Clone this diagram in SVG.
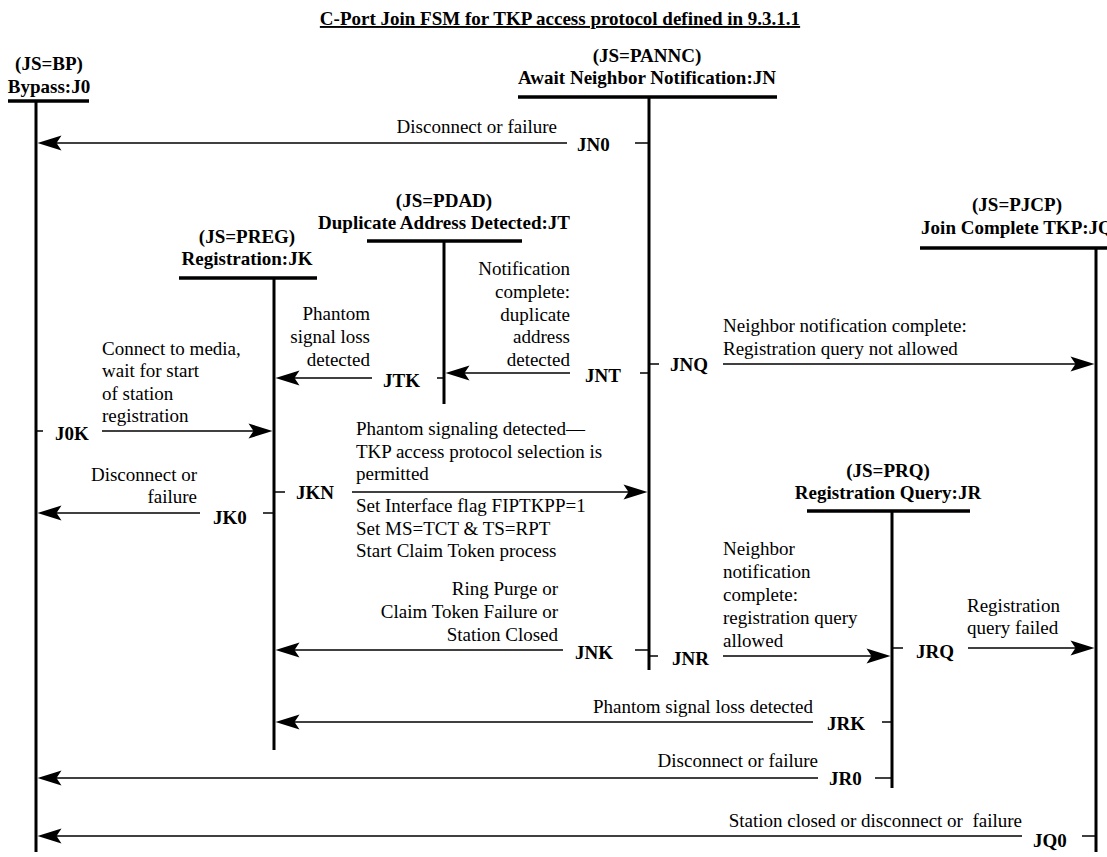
<svg xmlns="http://www.w3.org/2000/svg" width="1107" height="857" viewBox="0 0 1107 857">
  <style>
    text { font-family: "Liberation Serif", "Times New Roman", serif; font-size: 19px; fill: #000; }
    .b { font-weight: bold; }
    .title { font-weight: bold; text-decoration: underline; }
    .end { text-anchor: end; }
    .mid { text-anchor: middle; }
    .hdr { stroke: #000; stroke-width: 3.5; }
    .life { stroke: #000; stroke-width: 3; }
    .arrow { stroke: #000; stroke-width: 1.5; fill: none; marker-end: url(#head); }
    .tick { stroke: #000; stroke-width: 1.5; }
  </style>
  <defs>
    <marker id="head" markerUnits="userSpaceOnUse" markerWidth="28" markerHeight="18" viewBox="-16 -9 28 18" refX="0" refY="0" orient="auto">
      <path d="M10,0 L-14,-7.5 L-9,0 L-14,7.5 Z" fill="#000"/>
    </marker>
  </defs>

  <rect width="1107" height="857" fill="#fff"/>

  <text class="title mid" x="560" y="25">C-Port Join FSM for TKP access protocol defined in 9.3.1.1</text>

  <!-- States: title, header bar, lifeline -->
  <g id="J0">
    <text class="b mid" x="49" y="70">(JS=BP)</text>
    <text class="b mid" x="49" y="93">Bypass:J0</text>
    <line class="hdr" x1="8" y1="101" x2="89" y2="101"/>
    <line class="life" x1="36" y1="101" x2="36" y2="852"/>
  </g>

  <g id="JN">
    <text class="b mid" x="647" y="62">(JS=PANNC)</text>
    <text class="b mid" x="647" y="84">Await Neighbor Notification:JN</text>
    <line class="hdr" x1="518" y1="97" x2="777" y2="97"/>
    <line class="life" x1="649" y1="97" x2="649" y2="670"/>
  </g>

  <g id="JT">
    <text class="b mid" x="444" y="207">(JS=PDAD)</text>
    <text class="b mid" x="444" y="229">Duplicate Address Detected:JT</text>
    <line class="hdr" x1="367" y1="241" x2="522" y2="241"/>
    <line class="life" x1="444" y1="241" x2="444" y2="404"/>
  </g>

  <g id="JK">
    <text class="b mid" x="247" y="243">(JS=PREG)</text>
    <text class="b mid" x="247" y="265">Registration:JK</text>
    <line class="hdr" x1="179" y1="278" x2="317" y2="278"/>
    <line class="life" x1="274" y1="278" x2="274" y2="750"/>
  </g>

  <g id="JQ">
    <text class="b mid" x="1017" y="211">(JS=PJCP)</text>
    <text class="b mid" x="1017" y="234">Join Complete TKP:JQ</text>
    <line class="hdr" x1="920" y1="248" x2="1107" y2="248"/>
    <line class="life" x1="1096" y1="248" x2="1096" y2="852"/>
  </g>

  <g id="JR">
    <text class="b mid" x="888" y="477">(JS=PRQ)</text>
    <text class="b mid" x="888" y="499">Registration Query:JR</text>
    <line class="hdr" x1="807" y1="511" x2="970" y2="511"/>
    <line class="life" x1="892" y1="511" x2="892" y2="788"/>
  </g>

  <!-- Transitions -->
  <g id="connectors">
    <g id="JN0">
      <text class="end" x="557" y="133">Disconnect or failure</text>
      <line class="arrow" x1="567" y1="143" x2="47.5" y2="143"/>
      <text class="b" x="577" y="151">JN0</text>
      <line class="tick" x1="635" y1="143" x2="649" y2="143"/>
    </g>

    <g id="JTK">
      <text class="end" x="370" y="320">Phantom</text>
      <text class="end" x="370" y="343">signal loss</text>
      <text class="end" x="370" y="366">detected</text>
      <line class="arrow" x1="372" y1="378" x2="285.5" y2="378"/>
      <text class="b" x="383" y="387">JTK</text>
      <line class="tick" x1="437" y1="378" x2="444" y2="378"/>
    </g>

    <g id="JNT">
      <text class="end" x="570" y="275">Notification</text>
      <text class="end" x="570" y="298">complete:</text>
      <text class="end" x="570" y="321">duplicate</text>
      <text class="end" x="570" y="343">address</text>
      <text class="end" x="570" y="366">detected</text>
      <line class="arrow" x1="570" y1="373" x2="455.5" y2="373"/>
      <text class="b" x="585" y="382">JNT</text>
      <line class="tick" x1="640" y1="373" x2="649" y2="373"/>
    </g>

    <g id="JNQ">
      <line class="tick" x1="649" y1="364" x2="659" y2="364"/>
      <text class="b" x="670" y="371">JNQ</text>
      <text x="723" y="332">Neighbor notification complete:</text>
      <text x="723" y="355">Registration query not allowed</text>
      <line class="arrow" x1="723" y1="364" x2="1084.5" y2="364"/>
    </g>

    <g id="J0K">
      <line class="tick" x1="36" y1="431" x2="43" y2="431"/>
      <text class="b" x="55" y="440">J0K</text>
      <text x="102" y="355">Connect to media,</text>
      <text x="102" y="377">wait for start</text>
      <text x="102" y="400">of station</text>
      <text x="102" y="422">registration</text>
      <line class="arrow" x1="102" y1="431" x2="262.5" y2="431"/>
    </g>

    <g id="JKN">
      <line class="tick" x1="274" y1="492" x2="285" y2="492"/>
      <text class="b" x="296" y="499">JKN</text>
      <text x="356" y="435">Phantom signaling detected—</text>
      <text x="356" y="458">TKP access protocol selection is</text>
      <text x="356" y="480">permitted</text>
      <line class="arrow" x1="352" y1="492" x2="637.5" y2="492"/>
      <text x="356" y="512">Set Interface flag FIPTKPP=1</text>
      <text x="356" y="535">Set MS=TCT &amp; TS=RPT</text>
      <text x="356" y="557">Start Claim Token process</text>
    </g>

    <g id="JK0">
      <text class="end" x="197" y="481">Disconnect or</text>
      <text class="end" x="197" y="503">failure</text>
      <line class="arrow" x1="200" y1="513" x2="47.5" y2="513"/>
      <text class="b" x="213" y="524">JK0</text>
      <line class="tick" x1="263" y1="513" x2="274" y2="513"/>
    </g>

    <g id="JNK">
      <text class="end" x="558" y="595">Ring Purge or</text>
      <text class="end" x="558" y="618">Claim Token Failure or</text>
      <text class="end" x="558" y="641">Station Closed</text>
      <line class="arrow" x1="563" y1="650" x2="285.5" y2="650"/>
      <text class="b" x="575" y="659">JNK</text>
      <line class="tick" x1="635" y1="650" x2="649" y2="650"/>
    </g>

    <g id="JNR">
      <line class="tick" x1="649" y1="656" x2="658" y2="656"/>
      <text class="b" x="672" y="665">JNR</text>
      <text x="723" y="555">Neighbor</text>
      <text x="723" y="578">notification</text>
      <text x="723" y="601">complete:</text>
      <text x="723" y="624">registration query</text>
      <text x="723" y="647">allowed</text>
      <line class="arrow" x1="723" y1="656" x2="880.5" y2="656"/>
    </g>

    <g id="JRQ">
      <line class="tick" x1="892" y1="648" x2="903" y2="648"/>
      <text class="b" x="916" y="658">JRQ</text>
      <text x="967" y="612">Registration</text>
      <text x="967" y="634">query failed</text>
      <line class="arrow" x1="968" y1="648" x2="1084.5" y2="648"/>
    </g>

    <g id="JRK">
      <text class="end" x="813" y="713">Phantom signal loss detected</text>
      <line class="arrow" x1="813" y1="722" x2="285.5" y2="722"/>
      <text class="b" x="827" y="730">JRK</text>
      <line class="tick" x1="882" y1="722" x2="892" y2="722"/>
    </g>

    <g id="JR0">
      <text class="end" x="818" y="767">Disconnect or failure</text>
      <line class="arrow" x1="818" y1="778" x2="47.5" y2="778"/>
      <text class="b" x="829" y="785">JR0</text>
      <line class="tick" x1="875" y1="778" x2="892" y2="778"/>
    </g>

    <g id="JQ0">
      <text class="end" x="1022" y="827" xml:space="preserve">Station closed or disconnect or  failure</text>
      <line class="arrow" x1="1022" y1="836" x2="47.5" y2="836"/>
      <text class="b" x="1033" y="847">JQ0</text>
      <line class="tick" x1="1082" y1="836" x2="1096" y2="836"/>
    </g>
  </g>
</svg>
